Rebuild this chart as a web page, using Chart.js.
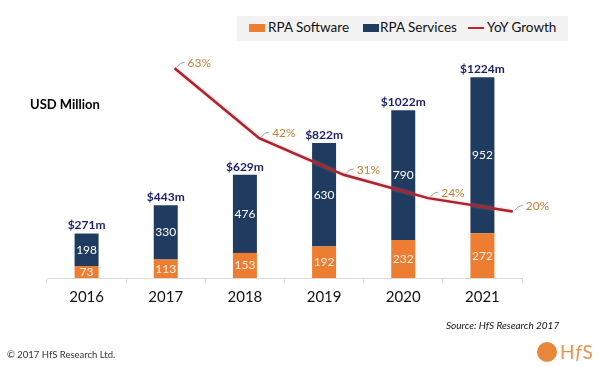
<!DOCTYPE html>
<html lang="en">
<head>
  <meta charset="UTF-8">
  <title>RPA market</title>
  <script src="https://cdn.jsdelivr.net/npm/chart.js"></script>
  <style>
    html, body { margin: 0; padding: 0; background: #fff; font-family: Lato, "Open Sans", sans-serif; }
    #wrap { position: relative; width: 600px; height: 366px; overflow: hidden; }
    #legend {
      position: absolute; left: 237px; top: 16px; width: 331px; height: 25px;
      background: #f2f2f2;
    }
    .sw { position: absolute; top: 8px; width: 16px; height: 8px; }
    .lt { position: absolute; top: 3px; font-size: 13.5px; color: #111; white-space: nowrap; }
    #unit { position: absolute; left: 30px; top: 96px; font-weight: bold; font-size: 13px; color: #000; }
    #source { position: absolute; left: 446px; top: 319px; font-style: italic; font-size: 10px; color: #111; }
    #copy { position: absolute; left: 7px; top: 349px; font-size: 9.5px; color: #333; }
    #logo { position: absolute; left: 537px; top: 342px; width: 20px; height: 20px; border-radius: 50%; background: #e8873a; }
    #logotxt { position: absolute; left: 560px; top: 340px; font-size: 19px; color: #e8924a; letter-spacing: 1px; }
  </style>
</head>
<body>
<div id="wrap">
  <canvas id="c" width="600" height="366"></canvas>
  <div id="legend">
    <div class="sw" style="left:12px;background:#ed7d31"></div>
    <div class="lt" style="left:31px">RPA Software</div>
    <div class="sw" style="left:126px;background:#1f3b5f"></div>
    <div class="lt" style="left:143px">RPA Services</div>
    <div class="sw" style="left:231px;top:11px;height:2px;background:#c0232a"></div>
    <div class="lt" style="left:250px">YoY Growth</div>
  </div>
  <div id="unit">USD Million</div>
  <div id="source">Source: HfS Research 2017</div>
  <div id="copy">© 2017 HfS Research Ltd.</div>
  <div id="logo"></div>
  <div id="logotxt">H<i>f</i>S</div>
</div>
<script>
  const years = ['2016', '2017', '2018', '2019', '2020', '2021'];
  const software = [73, 113, 153, 192, 232, 272];
  const services = [198, 330, 476, 630, 790, 952];
  const growthYears = [2017, 2018, 2019, 2020, 2021];
  const growth = [63, 42, 31, 24, 20];

  const labelPlugin = {
    id: 'labels',
    afterDatasetsDraw(chart) {
      const c = chart.ctx;
      const x = chart.scales.x, y = chart.scales.y;
      c.save();
      c.textAlign = 'center';
      years.forEach((yr, i) => {
        const px = x.getPixelForValue(i);
        c.font = '12px Lato, sans-serif';
        c.textBaseline = 'middle';
        c.fillStyle = '#fff3e8';
        c.fillText(software[i], px, y.getPixelForValue(software[i] / 2));
        c.fillStyle = '#ffffff';
        c.fillText(services[i], px, y.getPixelForValue(software[i] + services[i] / 2));
        const total = software[i] + services[i];
        c.font = 'bold 12px Lato, sans-serif';
        c.textBaseline = 'bottom';
        c.fillStyle = '#1c1f6e';
        c.fillText('$' + total + 'm', px, y.getPixelForValue(total) - 2);
      });
      const gx = chart.scales.xg, gy = chart.scales.y2;
      c.textAlign = 'left';
      c.textBaseline = 'middle';
      c.font = '12px Lato, sans-serif';
      growth.forEach((g, i) => {
        const px = gx.getPixelForValue(growthYears[i]);
        const py = gy.getPixelForValue(g);
        c.strokeStyle = '#8a8a8a';
        c.lineWidth = 0.8;
        c.beginPath();
        c.moveTo(px + 2, py - 1);
        c.lineTo(px + 6, py - 5);
        c.lineTo(px + 10, py - 6);
        c.stroke();
        c.fillStyle = '#c77f38';
        c.fillText(g + '%', px + 13, py - 5);
      });
      c.restore();
    }
  };

  const glowPlugin = {
    id: 'glow',
    beforeDatasetDraw(chart, args) {
      if (args.meta.type === 'line') {
        chart.ctx.save();
        chart.ctx.shadowColor = 'rgba(255,120,120,0.6)';
        chart.ctx.shadowBlur = 2.5;
      }
    },
    afterDatasetDraw(chart, args) {
      if (args.meta.type === 'line') chart.ctx.restore();
    }
  };

  new Chart(document.getElementById('c'), {
    type: 'bar',
    data: {
      labels: years,
      datasets: [
        {
          type: 'line', label: 'YoY Growth', order: 0,
          data: growthYears.map((yr, i) => ({ x: yr, y: growth[i] })),
          xAxisID: 'xg', yAxisID: 'y2',
          borderColor: '#a82530', borderWidth: 2.5, pointRadius: 0, tension: 0, fill: false
        },
        { label: 'RPA Software', data: software, backgroundColor: '#ed7d31', grouped: false, maxBarThickness: 24, order: 1 },
        { label: 'RPA Services', data: services, backgroundColor: '#1f3b5f', grouped: false, maxBarThickness: 24, order: 1 }
      ]
    },
    options: {
      responsive: false, animation: false,
      layout: { padding: { left: 47, right: 78, top: 45, bottom: 55 } },
      plugins: { legend: { display: false }, tooltip: { enabled: false } },
      scales: {
        x: {
          stacked: true,
          grid: { drawOnChartArea: false, color: '#d9d9d9', tickLength: 5, offset: true },
          border: { color: '#d9d9d9' },
          ticks: { color: '#111', font: { family: 'Lato', size: 15 }, padding: 5 }
        },
        y: { stacked: true, display: false, min: 0, max: 1420 },
        xg: { type: 'linear', display: false, offset: false, min: 2015.49, max: 2021.11 },
        y2: { display: false, min: 0, max: 70 }
      }
    },
    plugins: [glowPlugin, labelPlugin]
  });
</script>
</body>
</html>
